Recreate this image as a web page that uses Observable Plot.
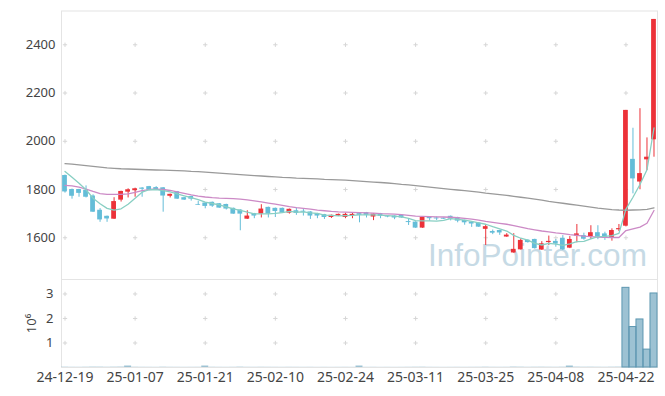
<!DOCTYPE html>
<html><head><meta charset="utf-8">
<script src="https://cdn.jsdelivr.net/npm/d3@7"></script>
<script src="https://cdn.jsdelivr.net/npm/@observablehq/plot@0.6"></script>
<style>
body{margin:0;background:#fff;}
#wrap{position:relative;width:665px;height:396px;overflow:hidden;}
#price,#vol{position:absolute;left:0;}
#price{top:0;}
#vol{top:279px;}
#wm{position:absolute;left:428px;top:240px;font:31.5px/31px "Liberation Sans",sans-serif;color:#c6dae5;white-space:nowrap;}
</style>
</head><body>
<div id="wrap"><div id="wm">InfoPointer.com</div><div id="price"></div><div id="vol"></div></div>
<script>
const dates = ["24-12-19","24-12-20","24-12-23","24-12-24","24-12-26","24-12-27","24-12-30","25-01-02","25-01-03","25-01-06",
"25-01-07","25-01-08","25-01-09","25-01-10","25-01-13","25-01-14","25-01-15","25-01-16","25-01-17","25-01-20",
"25-01-21","25-01-22","25-01-23","25-01-24","25-01-31","25-02-03","25-02-04","25-02-05","25-02-06","25-02-07",
"25-02-10","25-02-11","25-02-12","25-02-13","25-02-14","25-02-17","25-02-18","25-02-19","25-02-20","25-02-21",
"25-02-24","25-02-25","25-02-26","25-02-27","25-02-28","25-03-04","25-03-05","25-03-06","25-03-07","25-03-10",
"25-03-11","25-03-12","25-03-13","25-03-14","25-03-17","25-03-18","25-03-19","25-03-20","25-03-21","25-03-24",
"25-03-25","25-03-26","25-03-27","25-03-28","25-03-31","25-04-01","25-04-02","25-04-03","25-04-04","25-04-07",
"25-04-08","25-04-09","25-04-10","25-04-11","25-04-14","25-04-15","25-04-16","25-04-17","25-04-18","25-04-21",
"25-04-22","25-04-23","25-04-24","25-04-25","25-04-28"];

const open = [1858,1800,1800,1797,1773,1714,1689,1677,1756,1789, 1795,1806,1812,1808,1807,1772,1791,1766,1771,1738,
1744,1747,1741,1738,1722,1715,1677,1700,1698,1726, 1722,1722,1702,1712,1710,1707,1700,1696,1684,1690,
1684,1692,1700,1704,1686,1700,1690,1690,1693,1667, 1665,1640,1687,1682,1681,1689,1684,1672,1665,1661,
1635,1626,1630,1603,1537,1550,1590,1593,1549,1580, 1585,1598,1557,1607,1609,1605,1621,1616,1598,1633,
1648,1925,1831,1923,2006];
const high = [1860,1802,1801,1815,1778,1721,1690,1766,1793,1803, 1805,1808,1813,1812,1808,1781,1792,1767,1772,1751,
1745,1748,1742,1739,1723,1716,1712,1701,1737,1727, 1723,1723,1719,1723,1719,1708,1701,1697,1694,1698,
1702,1702,1701,1705,1699,1701,1692,1691,1694,1679, 1666,1685,1688,1686,1682,1690,1685,1673,1666,1662,
1654,1632,1631,1617,1617,1596,1591,1594,1584,1607, 1593,1609,1605,1655,1619,1650,1650,1623,1637,1655,
2128,2054,2135,2014,2505];
const low = [1785,1760,1768,1765,1705,1664,1664,1676,1748,1765, 1768,1768,1795,1797,1706,1765,1759,1755,1752,1734,
1720,1726,1722,1715,1697,1629,1676,1679,1682,1682, 1684,1701,1698,1693,1690,1676,1679,1676,1680,1688,
1679,1679,1662,1682,1671,1679,1683,1675,1681,1651, 1639,1639,1669,1671,1676,1670,1662,1652,1643,1643,
1568,1613,1610,1602,1536,1549,1578,1553,1548,1568, 1561,1547,1555,1579,1590,1593,1592,1589,1586,1626,
1645,1782,1799,1879,1934];
const close = [1790,1772,1784,1768,1706,1674,1678,1750,1792,1799, 1803,1801,1797,1800,1773,1780,1760,1756,1760,1735,
1730,1731,1723,1719,1698,1698,1690,1690,1719,1698, 1709,1702,1718,1701,1706,1690,1690,1684,1693,1697,
1697,1697,1693,1693,1698,1689,1686,1682,1682,1663, 1640,1684,1679,1678,1677,1677,1669,1662,1657,1644,
1646,1619,1620,1611,1552,1589,1580,1555,1575,1585, 1574,1550,1593,1616,1594,1621,1603,1598,1630,1638,
2128,1844,1866,1934,2505];
const volume = [12000,9000,8000,11000,15000,14000,10000,13000,16000,60000,
11000,9000,8000,7000,12000,9000,8000,7000,8000,9000,
60000,10000,8000,7000,9000,14000,9000,8000,10000,9000,
8000,7000,9000,8000,7000,8000,6000,7000,6000,7000,
8000,7000,60000,7000,8000,6000,7000,6000,7000,9000,
11000,12000,8000,7000,6000,7000,8000,7000,8000,9000,
12000,9000,8000,9000,16000,13000,9000,11000,12000,10000,
9000,12000,60000,14000,11000,12000,10000,9000,12000,14000,
3250000,1650000,1960000,730000,3020000];
const ma5 = [1875,1851,1826,1799,1764,1741,1722,1715,1720,1739, 1764,1789,1799,1800,1795,1790,1782,1774,1766,1758,
1748,1742,1736,1728,1720,1714,1706,1699,1699,1699, 1701,1704,1709,1706,1707,1703,1701,1694,1693,1691,
1692,1693,1695,1695,1695,1694,1692,1690,1687,1680, 1671,1670,1670,1669,1672,1679,1676,1673,1668,1662,
1656,1646,1637,1628,1610,1598,1590,1577,1570,1577, 1574,1568,1575,1584,1585,1595,1605,1606,1609,1618,
1719,1768,1821,1882,2055];
const ma20 = [1817,1815,1810,1802,1792,1783,1780,1780,1780,1782, 1788,1795,1800,1802,1800,1796,1790,1784,1778,1773,
1769,1766,1764,1763,1762,1760,1757,1753,1749,1744, 1739,1734,1729,1725,1722,1719,1715,1712,1709,1707,
1706,1705,1704,1703,1702,1700,1699,1698,1696,1693, 1690,1689,1688,1687,1686,1685,1683,1680,1677,1673,
1668,1664,1660,1656,1650,1644,1638,1633,1628,1624, 1620,1617,1613,1610,1607,1605,1603,1602,1601,1601,
1630,1637,1644,1660,1713];
const ma60 = [1907,1905,1902,1899,1896,1893,1890,1888,1886,1885, 1884,1883,1882,1881,1880,1879,1878,1877,1875,1874,
1872,1870,1868,1866,1864,1862,1860,1858,1856,1854, 1852,1850,1849,1847,1846,1845,1844,1842,1841,1840,
1839,1837,1835,1833,1831,1829,1827,1824,1821,1819, 1816,1813,1810,1807,1804,1801,1798,1795,1792,1789,
1785,1782,1779,1776,1772,1768,1764,1760,1756,1751, 1747,1743,1739,1735,1731,1727,1723,1720,1717,1715,
1714,1715,1716,1718,1724];
const priceTicks = [1600, 1800, 2000, 2200, 2400];
const volTicks = [1000000, 2000000, 3000000];
const dateTicks = ["24-12-19","25-01-07","25-01-21","25-02-10","25-02-24","25-03-11","25-03-25","25-04-08","25-04-22"];

const rows = dates.map((d, i) => ({i, d, o: open[i], h: high[i], l: low[i], c: close[i], v: volume[i], m5: ma5[i], m20: ma20[i], m60: ma60[i]}));
const xTickIdx = dateTicks.map(t => dates.indexOf(t));
const UP = "#ec3239", DOWN = "#64bdd8";
const cross = (xs, ys) => xs.flatMap(x => ys.map(y => ({x, y})));
const xDom = [-0.5, dates.length - 0.5];
const font = '"Noto Sans", sans-serif';

const price = Plot.plot({
  width: 665, height: 279, marginLeft: 61, marginRight: 8, marginTop: 10.5, marginBottom: 0,
  style: {background: "transparent", fontFamily: font, color: "#444", overflow: "visible"},
  x: {type: "linear", domain: xDom, axis: null},
  y: {domain: [1427, 2540]},
  marks: [
    Plot.frame({stroke: "#e4e4e4"}),
    Plot.dot(cross(xTickIdx, priceTicks), {x: "x", y: "y", symbol: "plus", r: 1.5, stroke: "#d6d6d6", strokeWidth: 1}),
    Plot.axisY({ticks: priceTicks, tickFormat: d => String(d), tickSize: 0, tickPadding: 6, fontSize: 13, label: null}),
    Plot.ruleX(rows, {x: "i", y1: "l", y2: "h", stroke: d => d.c >= d.o ? UP : DOWN, strokeWidth: 1}),
    Plot.rect(rows, {x1: d => d.i - 0.34, x2: d => d.i + 0.34, y1: "o", y2: "c", fill: d => d.c >= d.o ? UP : DOWN}),
    Plot.line(rows, {x: "i", y: "m60", stroke: "#9a9a9a", strokeWidth: 1.3}),
    Plot.line(rows, {x: "i", y: "m20", stroke: "#cc8ac6", strokeWidth: 1.3}),
    Plot.line(rows, {x: "i", y: "m5", stroke: "#88cfc3", strokeWidth: 1.3})
  ]
});
document.getElementById("price").appendChild(price);

const vol = Plot.plot({
  width: 665, height: 117, marginLeft: 61, marginRight: 8, marginTop: 0, marginBottom: 29,
  style: {background: "transparent", fontFamily: font, color: "#444", overflow: "visible"},
  x: {type: "linear", domain: xDom},
  y: {domain: [0, 3590000]},
  marks: [
    Plot.frame({stroke: "#e4e4e4"}),
    Plot.dot(cross(xTickIdx, volTicks), {x: "x", y: "y", symbol: "plus", r: 1.5, stroke: "#d6d6d6", strokeWidth: 1}),
    Plot.rect(rows, {x1: d => d.i - 0.5, x2: d => d.i + 0.5, y1: 0, y2: "v", fill: "#9dc2d3"}),
    Plot.rect(rows.filter(d => d.v > 200000), {x1: d => d.i - 0.5, x2: d => d.i + 0.5, y1: 0, y2: "v", stroke: "#5d97b1", strokeWidth: 1}),
    Plot.axisY({ticks: volTicks, tickFormat: d => String(d / 1e6), tickSize: 0, tickPadding: 8, fontSize: 13,
      label: "10⁶", labelAnchor: "center", labelArrow: "none", labelOffset: 35}),
    Plot.axisX({ticks: xTickIdx, tickFormat: i => dates[i], tickSize: 0, tickPadding: 5, fontSize: 14, label: null})
  ]
});
document.getElementById("vol").appendChild(vol);
</script>
</body></html>
